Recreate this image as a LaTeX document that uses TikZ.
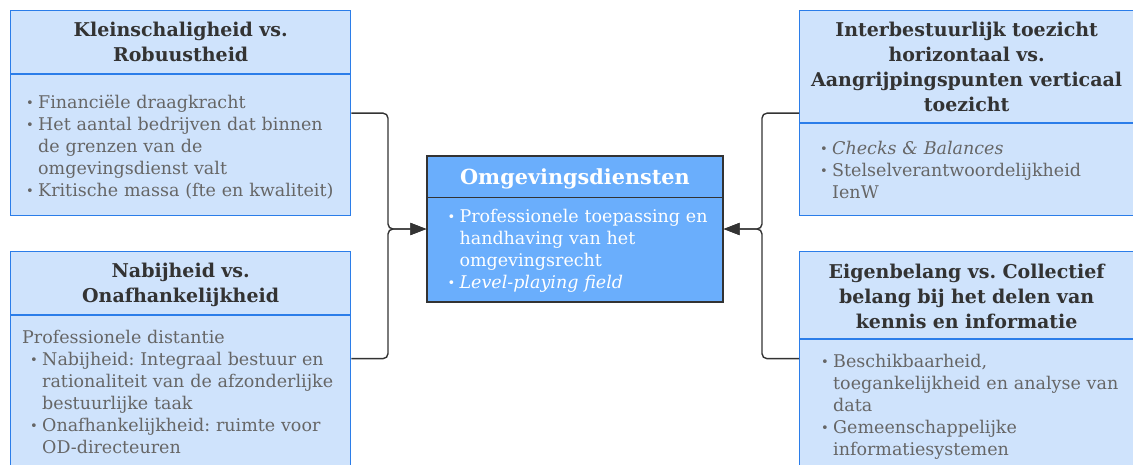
\documentclass[tikz,border=0pt]{standalone}
\usepackage{fontspec}
\setmainfont{DejaVu Serif}
\usepackage{tikz}
\usetikzlibrary{positioning}
\usetikzlibrary{arrows.meta}

\definecolor{lichtblauw}{HTML}{CFE3FC}
\definecolor{randblauw}{HTML}{2B7DE9}
\definecolor{middenblauw}{HTML}{6AAEFC}
\definecolor{lijngrijs}{HTML}{333333}
\definecolor{tekstgrijs}{HTML}{666666}

\frenchspacing
\newcommand{\kopfont}{\fontsize{19}{25}\selectfont\bfseries}
\newcommand{\tekstfont}{\fontsize{17.5}{22}\selectfont}
\newcommand{\nl}{\hfil\break}
\newcommand{\punt}[1]{\noindent\hangindent=12pt\hangafter=1\makebox[12pt][l]{\raisebox{1pt}{\fontsize{13}{13}\selectfont\textbullet}}#1\par}

\begin{document}
\begin{tikzpicture}[x=1pt,y=-1pt,
  groep/.style={draw=randblauw,fill=lichtblauw,line width=1.3pt,inner sep=0pt,anchor=north west},
  kop/.style={text width=330pt,align=center,font=\kopfont,text=lijngrijs,inner sep=0pt},
  tekst/.style={text width=320pt,align=left,font=\tekstfont,text=tekstgrijs,inner sep=0pt},
  scheiding/.style={draw=randblauw,line width=1.3pt},
  verbinding/.style={draw=lijngrijs,line width=1.4pt,rounded corners=5pt,-{Triangle[length=16pt,width=12pt]}}]
\useasboundingbox (0,0) rectangle (1133,464);
\clip (0,0) rectangle (1133,464);

% links boven
\node[groep,minimum width=340pt,minimum height=205pt] (klein) at (10,10) {};
\draw[scheiding] ([yshift=-64pt]klein.north west) -- ([yshift=-64pt]klein.north east);
\node[kop,below=12.3pt of klein.north] (kleinkop) {Kleinschaligheid vs.\\Robuustheid};
\node[tekst,below right=84.7pt and 16pt of klein.north west] (kleintekst) {%
  \punt{Financiële draagkracht}%
  \punt{Het aantal bedrijven dat binnen\nl de grenzen van de\nl omgevingsdienst valt}%
  \punt{Kritische massa (fte en kwaliteit)}};

% links onder
\node[groep,minimum width=340pt,minimum height=214pt] (nabij) at (10,251) {};
\draw[scheiding] ([yshift=-64pt]nabij.north west) -- ([yshift=-64pt]nabij.north east);
\node[kop,below=11.6pt of nabij.north] (nabijkop) {Nabijheid vs.\\Onafhankelijkheid};
\node[tekst,below right=78.7pt and 12pt of nabij.north west] (nabijtekst) {%
  Professionele distantie\par
  {\leftskip=8pt
  \punt{Nabijheid: Integraal bestuur en\nl rationaliteit van de afzonderlijke\nl bestuurlijke taak}%
  \punt{Onafhankelijkheid: ruimte voor\nl OD-directeuren}}};

% midden
\node[draw=lijngrijs,fill=middenblauw,line width=1.3pt,minimum width=296pt,minimum height=146pt,inner sep=0pt] (od) at (575,229) {};
\draw[lijngrijs,line width=1.3pt] ([yshift=-42pt]od.north west) -- ([yshift=-42pt]od.north east);
\node[kop,font=\fontsize{20.8}{25}\selectfont\bfseries,text=white,below=13.4pt of od.north] (odkop) {Omgevingsdiensten};
\node[tekst,text=white,below right=53.7pt and 21pt of od.north west] (odtekst) {%
  \punt{Professionele toepassing en\nl handhaving van het\nl omgevingsrecht}%
  \punt{\textit{Level-playing field}}};

% rechts boven
\node[groep,minimum width=334pt,minimum height=205pt] (inter) at (799,10) {};
\draw[scheiding] ([yshift=-113pt]inter.north west) -- ([yshift=-113pt]inter.north east);
\node[kop,below=11.6pt of inter.north] (interkop) {Interbestuurlijk toezicht\\horizontaal vs.\\Aangrijpingspunten verticaal\\toezicht};
\node[tekst,below right=130.7pt and 21pt of inter.north west] (intertekst) {%
  \punt{\textit{Checks \& Balances}}%
  \punt{Stelselverantwoordelijkheid\nl IenW}};

% rechts onder
\node[groep,minimum width=334pt,minimum height=214pt] (eigen) at (799,251) {};
\draw[scheiding] ([yshift=-88pt]eigen.north west) -- ([yshift=-88pt]eigen.north east);
\node[kop,below=12.6pt of eigen.north] (eigenkop) {Eigenbelang vs. Collectief\\belang bij het delen van\\kennis en informatie};
\node[tekst,below right=102.7pt and 22pt of eigen.north west] (eigentekst) {%
  \punt{Beschikbaarheid,\nl toegankelijkheid en analyse van\nl data}%
  \punt{Gemeenschappelijke\nl informatiesystemen}};

% verbindingen
\coordinate (lknoop) at (388,229);
\coordinate (rknoop) at (762,229);
\draw[verbinding] (klein.east) -| (lknoop) -- (od.west);
\draw[verbinding] (nabij.east) -| (lknoop) -- (od.west);
\draw[verbinding] (inter.west) -| (rknoop) -- (od.east);
\draw[verbinding] (eigen.west) -| (rknoop) -- (od.east);
\end{tikzpicture}
\end{document}
